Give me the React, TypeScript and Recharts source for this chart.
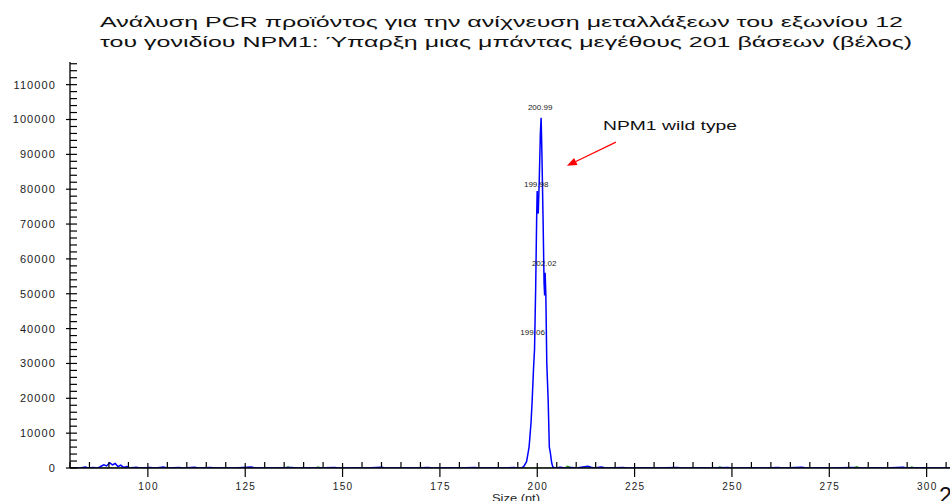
import React from "react";
import { LineChart, Line, XAxis, YAxis, ReferenceDot, ReferenceLine } from "recharts";

const titleLines = [
  "Ανάλυση PCR προϊόντος για την ανίχνευση μεταλλάξεων του εξωνίου 12",
  "του γονιδίου NPM1: Ύπαρξη μιας μπάντας μεγέθους 201 βάσεων (βέλος)",
];
const annotationText = "NPM1 wild type";
const xAxisTitle = "Size (nt)";
const cornerText = "2";

const xMajorTicks = [100, 125, 150, 175, 200, 225, 250, 275, 300];
const yMajorTicks = [0, 10000, 20000, 30000, 40000, 50000, 60000, 70000, 80000, 90000, 100000, 110000];

// blue trace (size in nt, height)
const blueSizes = [
  80, 81.5, 82.5, 84, 84.6, 86, 87.2, 88, 88.7, 89.4, 90.2, 90.9, 91.6, 92.3, 93, 93.8, 94.6, 95.4,
  97, 98, 100.5, 102, 104, 105, 108, 109, 112, 113, 116, 117.5, 121, 122, 126.6, 127.5, 131, 132,
  137, 138, 142, 143, 148, 149, 155, 156, 160, 161, 167, 168, 172, 173, 178, 179, 184, 185, 190, 191,
  194, 195, 196, 196.5, 197.25, 197.9, 198.4, 198.7, 199.06, 199.3, 199.6, 199.85, 199.98, 200.1,
  200.25, 200.5, 200.8, 200.99, 201.2, 201.5, 201.75, 201.9, 202.02, 202.2, 202.45, 202.8, 203.1,
  203.35, 203.7, 204, 204.5, 206, 207, 209, 210, 213, 213.8, 214.5, 216.5, 217.3, 218, 222, 223,
  229, 230, 236, 237, 243, 244, 249, 250, 256, 257, 262, 263, 268, 269, 274, 275, 281, 282, 288, 289,
  294, 295, 300, 301, 306,
];
const blueHeights = [
  0, 100, 0, 300, 0, 150, 0, 500, 900, 600, 1500, 900, 1300, 400, 800, 150, 400, 0,
  200, 0, 150, 0, 250, 0, 150, 0, 200, 0, 150, 0, 100, 0, 250, 0, 100, 0,
  150, 0, 100, 0, 150, 0, 100, 0, 200, 0, 100, 0, 150, 0, 100, 0, 150, 0, 100, 0,
  150, 0, 100, 400, 1800, 6000, 13000, 19500, 29000, 34000, 52000, 72000, 79500, 74000,
  73000, 82000, 96000, 100500, 90000, 71000, 53000, 49500, 56000, 50000, 30000, 19500, 6000,
  4500, 1500, 300, 0, 200, 0, 150, 0, 500, 200, 0, 300, 100, 0, 150, 0,
  100, 0, 150, 0, 100, 0, 150, 0, 100, 0, 150, 0, 200, 0, 100, 0, 150, 0, 100, 0,
  200, 0, 100, 0, 0,
];

// green trace
const greenSizes = [
  80, 84, 85, 95, 96, 97, 110, 111, 112, 135, 136, 137, 143, 143.7, 144.5, 160, 161, 162, 185, 186,
  187, 207, 207.8, 208.7, 209.5, 225, 226, 227, 246, 246.9, 247.8, 265, 266, 267, 281, 282, 283,
  295.5, 296.2, 297, 306,
];
const greenHeights = [
  0, 100, 0, 0, 150, 0, 0, 100, 0, 0, 300, 0, 0, 300, 0, 0, 100, 0, 0, 100,
  0, 0, 500, 100, 0, 0, 100, 0, 0, 300, 0, 0, 100, 0, 0, 400, 0,
  0, 300, 0, 0,
];

const peakSizes = [199.06, 199.98, 200.99, 202.02];
const peakLabels = ["199.06", "199.98", "200.99", "202.02"];
const peakLabelHeights = [38900, 81300, 103500, 58700];

const arrowFrom = { size: 220.2, height: 93500 };
const arrowTo = { size: 207.6, height: 86700 };

const blueData = blueSizes.map((s, i) => ({ size: s, v: blueHeights[i] }));
const greenData = greenSizes.map((s, i) => ({ size: s, v: greenHeights[i] }));

const xTicks: number[] = [];
for (let v = 80; v <= 305; v += 5) xTicks.push(v);
const yTicks: number[] = [];
for (let v = 0; v <= 116000; v += 2000) yTicks.push(v);

const FONT = "'Liberation Sans', Arial, sans-serif";

function XTick(props: any) {
  const { x, y, payload } = props;
  const major = xMajorTicks.includes(payload.value);
  return (
    <g>
      <line x1={x} x2={x} y1={major ? y - 5 : y - 6} y2={major ? y + 9 : y} stroke="#000" strokeWidth={1.2} />
      {major && (
        <text x={x + 0.6} y={y + 22} textAnchor="middle" fontSize={10} letterSpacing={1.3} fill="#222" fontFamily={FONT}>
          {payload.value}
        </text>
      )}
    </g>
  );
}

function YTick(props: any) {
  const { x, y, payload } = props;
  const major = yMajorTicks.includes(payload.value);
  return (
    <g>
      <line x1={major ? x - 4 : x} x2={x + 7} y1={y} y2={y} stroke="#000" strokeWidth={1.2} />
      {major && (
        <text x={x - 14} y={y} dy="0.36em" textAnchor="end" fontSize={11} letterSpacing={1.1} fill="#222" fontFamily={FONT}>
          {payload.value}
        </text>
      )}
    </g>
  );
}

function Arrow(props: any) {
  const { x1, y1, x2, y2 } = props;
  const dx = x2 - x1;
  const dy = y2 - y1;
  const len = Math.sqrt(dx * dx + dy * dy) || 1;
  const ux = dx / len;
  const uy = dy / len;
  const bx = x2 - ux * 10;
  const by = y2 - uy * 10;
  const pts = `${x2},${y2} ${bx - uy * 4},${by + ux * 4} ${bx + uy * 4},${by - ux * 4}`;
  return (
    <g>
      <line x1={x1} y1={y1} x2={bx} y2={by} stroke="#ff0000" strokeWidth={1.2} />
      <polygon points={pts} fill="#ff0000" />
    </g>
  );
}

export default function App() {
  return (
    <div style={{ position: "absolute", left: 0, top: 0, width: 950, height: 501, background: "#fff", overflow: "hidden" }}>
      <LineChart width={950} height={501} margin={{ top: 62, right: 0, bottom: 0, left: 10 }}>
        <XAxis
          type="number"
          dataKey="size"
          domain={[80, 306]}
          allowDataOverflow
          ticks={xTicks}
          interval={0}
          tickSize={0}
          tickMargin={0}
          tickLine={false}
          tick={(p: any) => <XTick {...p} />}
          axisLine={{ stroke: "#000", strokeWidth: 1.3 }}
          height={33}
        />
        <YAxis
          type="number"
          domain={[0, 116500]}
          allowDataOverflow
          ticks={yTicks}
          interval={0}
          tickSize={0}
          tickMargin={0}
          tickLine={false}
          tick={(p: any) => <YTick {...p} />}
          axisLine={{ stroke: "#000", strokeWidth: 1.3 }}
          width={60}
        />
        <Line
          data={greenData}
          dataKey="v"
          type="linear"
          stroke="#1f9e1f"
          strokeWidth={1.2}
          dot={false}
          isAnimationActive={false}
        />
        <Line
          data={blueData}
          dataKey="v"
          type="linear"
          stroke="#0000ff"
          strokeWidth={1.5}
          dot={false}
          isAnimationActive={false}
        />
        {peakSizes.map((s, i) => (
          <ReferenceDot
            key={peakLabels[i]}
            x={s}
            y={peakLabelHeights[i]}
            r={0}
            shape={(p: any) => (
              <text x={p.cx - 1} y={p.cy} dy="0.35em" textAnchor="middle" fontSize={8} fill="#222" fontFamily={FONT}>
                {peakLabels[i]}
              </text>
            )}
          />
        ))}
        <ReferenceLine
          segment={[
            { x: arrowFrom.size, y: arrowFrom.height },
            { x: arrowTo.size, y: arrowTo.height },
          ]}
          shape={(p: any) => <Arrow {...p} />}
        />
      </LineChart>
      <svg width={950} height={501} style={{ position: "absolute", left: 0, top: 0, pointerEvents: "none" }}>
        <text x={100} y={27} fontSize={15.5} fontFamily={FONT} fill="#111" textLength={803} lengthAdjust="spacingAndGlyphs">
          {titleLines[0]}
        </text>
        <text x={100} y={47} fontSize={15.5} fontFamily={FONT} fill="#111" textLength={812} lengthAdjust="spacingAndGlyphs">
          {titleLines[1]}
        </text>
        <text x={603} y={130} fontSize={13} fontFamily={FONT} fill="#111" textLength={134} lengthAdjust="spacingAndGlyphs">
          {annotationText}
        </text>
        <text x={492} y={502} fontSize={10} fontFamily={FONT} fill="#222" textLength={48} lengthAdjust="spacingAndGlyphs">
          {xAxisTitle}
        </text>
        <text x={939} y={504} fontSize={23} fontFamily={FONT} fill="#111">
          {cornerText}
        </text>
      </svg>
    </div>
  );
}
